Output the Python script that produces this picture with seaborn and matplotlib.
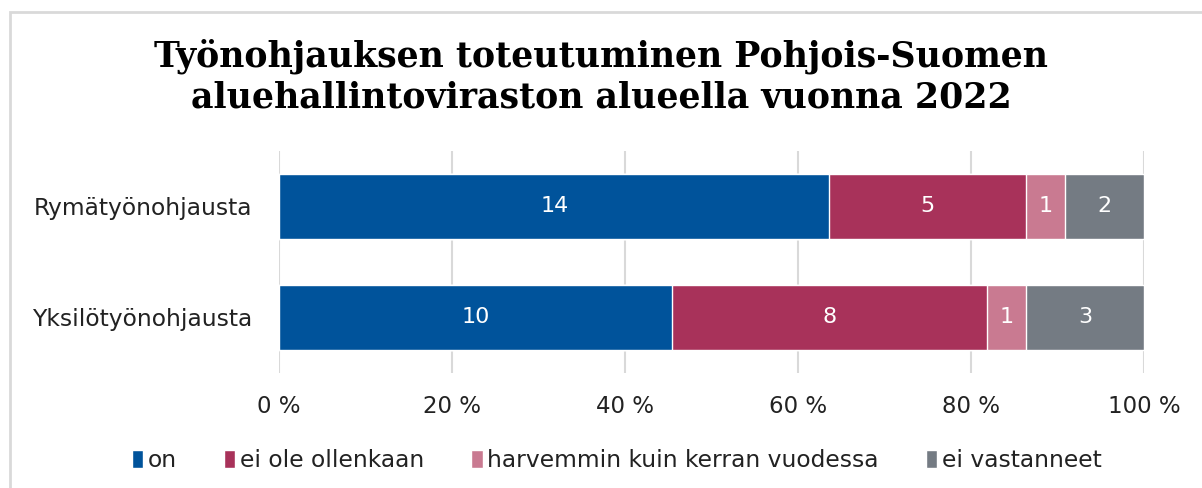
import numpy as np
import pandas as pd
import matplotlib
matplotlib.use("Agg")
import matplotlib.pyplot as plt
import seaborn as sns
from matplotlib.patches import Rectangle

categories = ["Rymätyönohjausta", "Yksilötyönohjausta"]
series_names = ["on", "ei ole ollenkaan", "harvemmin kuin kerran vuodessa", "ei vastanneet"]
on_vals = [14, 10]
ei_ole_vals = [5, 8]
harvemmin_vals = [1, 1]
ei_vast_vals = [2, 3]
colors = ["#00539B", "#A8325A", "#C97A91", "#747B83"]
tick_labels = ["0 %", "20 %", "40 %", "60 %", "80 %", "100 %"]

sns.set_theme(style="white")
plt.rcParams['font.family'] = ['DejaVu Sans']

counts = np.array([on_vals, ei_ole_vals, harvemmin_vals, ei_vast_vals], dtype=float)
totals = counts.sum(axis=0)
pct = counts / totals * 100
cum = np.cumsum(pct, axis=0)

fig = plt.figure(figsize=(12.02, 4.88), dpi=100)
ax = fig.add_axes([0.2321, 0.2357, 0.7196, 0.4549])

for i in reversed(range(len(series_names))):
    df = pd.DataFrame({"cat": categories, "val": cum[i]})
    sns.barplot(data=df, y="cat", x="val", color=colors[i], ax=ax,
                width=0.59, orient="h", edgecolor="white", linewidth=1,
                saturation=1, label=series_names[i])

handles, labels = ax.get_legend_handles_labels()
if ax.get_legend() is not None:
    ax.get_legend().remove()

for i in range(len(series_names)):
    for j in range(len(categories)):
        left = cum[i, j] - pct[i, j]
        ax.text(left + pct[i, j] / 2, j, f"{int(counts[i, j])}", ha="center", va="center",
                color="white", fontsize=16)

ax.set_xlim(0, 100)
ax.set_ylim(1.5, -0.5)
ax.set_xticks(np.arange(0, 101, 20))
ax.set_xticklabels(tick_labels, fontsize=16.5, color="#222222")
ax.tick_params(axis="x", length=0, pad=16)
ax.tick_params(axis="y", length=0, pad=19, labelsize=16.8, labelcolor="#222222")
ax.set_xlabel("")
ax.set_ylabel("")
ax.xaxis.grid(True, color="#d9d9d9", linewidth=1.5)
ax.set_axisbelow(True)
for s in ax.spines.values():
    s.set_visible(False)

order = [labels.index(n) for n in series_names]
leg = fig.legend([handles[k] for k in order], series_names, loc="center",
                 bbox_to_anchor=(0.513, 0.057), ncol=4, frameon=False,
                 fontsize=16.8, handlelength=0.5, handleheight=0.8,
                 handletextpad=0.2, columnspacing=2.0)
for t in leg.get_texts():
    t.set_color("#222222")

fig.suptitle("Työnohjauksen toteutuminen Pohjois-Suomen\naluehallintoviraston alueella vuonna 2022",
             fontfamily="DejaVu Serif", fontweight="bold", fontsize=25, y=0.922,
             va="top", linespacing=1.25, color="black")

fig.patches.append(Rectangle((10 / 1202, -0.1), 1.2, 1 - 12 / 488 + 0.1,
                             transform=fig.transFigure, fill=False,
                             edgecolor="#d9d9d9", linewidth=2))

fig.savefig("out.png", dpi=100)
